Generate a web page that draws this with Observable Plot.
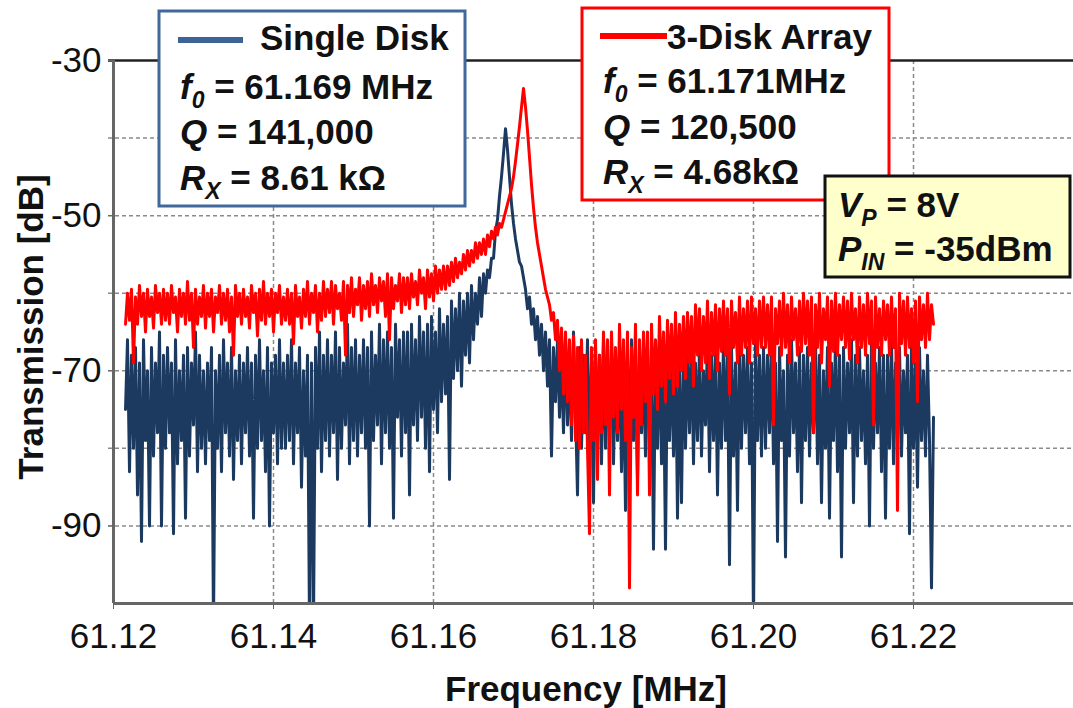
<!DOCTYPE html>
<html>
<head>
<meta charset="utf-8">
<script src="https://cdn.jsdelivr.net/npm/d3@7"></script>
<script src="https://cdn.jsdelivr.net/npm/@observablehq/plot@0.6"></script>
<style>
  html, body { margin: 0; padding: 0; background: #fff; }
  #wrap { position: relative; width: 1073px; height: 708px; overflow: hidden; }
  #wrap svg { position: absolute; left: 0; top: 0; }
</style>
</head>
<body>
<div id="wrap"></div>
<script>
// ---- data ----
const freqStart = 61.1215;   // MHz, first sample of the sweep
const freqStep = 0.00025;    // MHz, sweep spacing

const singleDiskDb = [
  -75,-66,-83,-68,-80,-67,-86,-69,-92,-66,-79,-70,-90,-67,-81,-69,-78,-65,-90,-68,
  -80,-67,-78,-69,-91,-66,-82,-70,-79,-68,-89,-67,-81,-69,-77,-65,-83,-68,-80,-70,
  -82,-69,-79,-67,-103,-70,-80,-68,-83,-66,-78,-69,-81,-67,-84,-70,-79,-68,-82,-69,
  -78,-67,-81,-69,-89,-68,-80,-66,-79,-70,-83,-67,-90,-69,-78,-68,-82,-66,-80,-69,
  -80,-68,-79,-66,-82,-69,-78,-67,-85,-70,-81,-68,-103,-69,-103,-67,-80,-65,-83,-68,
  -79,-66,-81,-68,-78,-65,-84,-67,-80,-69,-77,-64,-82,-67,-79,-66,-81,-68,-78,-66,
  -80,-67,-90,-65,-79,-68,-77,-64,-82,-66,-78,-65,-80,-67,-89,-64,-76,-66,-81,-65,
  -78,-65,-86,-64,-77,-66,-79,-63,-76,-65,-80,-64,-83,-63,-75,-65,-78,-62,-74,-64,
  -73,-63,-84,-61,-71,-62,-70,-60,-72,-61,-68,-60,-69,-59,-66,-60,-64,-58,-63,-57.5,
  -60,-57,-58,-55.5,-55.5,-52,-50.5,-47.5,-45,-42,-38.8,-41.5,-45,-48.5,-51,-53,-54.5,-56,-56.5,-58,
  -59.5,-62,-60.5,-64,-62,-66,-63,-68,-64,-70,-65,-72,-66,-81,-67,-74,-66,-76,-68,-78,
  -66,-77,-68,-79,-65,-75,-86,-67,-80,-68,-78,-66,-81,-69,-87,-67,-79,-68,-82,-66,
  -80,-68,-78,-66,-82,-69,-79,-67,-83,-70,-88,-68,-80,-66,-79,-69,-84,-67,-78,-69,
  -81,-67,-79,-69,-93,-68,-80,-66,-82,-70,-93,-67,-79,-68,-81,-66,-89,-69,-87,-67,
  -80,-68,-78,-66,-82,-69,-79,-67,-81,-70,-77,-66,-83,-68,-79,-67,-86,-69,-80,-66,
  -79,-68,-95,-67,-81,-69,-88,-66,-80,-68,-78,-67,-82,-69,-103,-66,-79,-68,-81,-67,
  -80,-68,-78,-66,-82,-69,-92,-67,-79,-70,-94,-68,-81,-66,-78,-69,-83,-67,-87,-68,
  -79,-67,-81,-69,-78,-66,-82,-68,-87,-70,-80,-67,-89,-69,-79,-66,-83,-68,-94,-67,
  -80,-69,-78,-66,-87,-68,-81,-67,-79,-70,-82,-68,-90,-66,-80,-69,-78,-67,-83,-68,
  -89,-68,-80,-66,-82,-69,-79,-67,-81,-70,-78,-68,-91,-66,-80,-69,-85,-67,-79,-70,
  -81,-68,-79,-98,-76
];

const threeDiskDb = [
  -64,-60,-63.5,-59.5,-69,-60.5,-64,-59,-63,-60,-65,-59.5,-63,-60.5,-64.5,-59,-62.5,-60,-64,-59.5,
  -63.5,-60,-64,-59,-62.5,-60.5,-65,-59.5,-63,-60,-64,-58.5,-63.5,-60,-67,-59.5,-64,-60.5,-63,-59,
  -64.5,-60,-63,-59.5,-65,-60.5,-62.5,-59,-64,-60,-63.5,-59.5,-65,-60.5,-68,-59,-63,-60,-64,-59.5,
  -63,-60.5,-64.5,-59,-62.5,-60,-65.5,-59.5,-63.5,-58.5,-64,-60,-63,-59.5,-65,-60,-62.5,-59,-64,-60.5,
  -63.5,-59.5,-64,-60,-66.5,-59,-63,-60.5,-64.5,-59.5,-63,-58.5,-64,-60,-62.5,-59,-65,-60,-63.5,-58.5,
  -63,-59.5,-62.5,-58.5,-64,-59,-62,-60,-63.5,-58.5,-68,-59,-62.5,-58,-63,-59.5,-61.5,-58,-63.5,-59,
  -62,-58.5,-63,-57.5,-61.5,-59,-62.5,-58,-61,-58.5,-63,-57.5,-66,-58,-62,-59,-61,-57.5,-62.5,-58,
  -61.5,-58,-62,-57.5,-60.5,-58.5,-61.5,-57,-60,-58,-62,-57,-60.5,-57.5,-61,-56.5,-60,-57,-59.5,-56.5,
  -59.5,-56.5,-59,-56,-58.5,-55.5,-58,-56,-57.5,-55,-57,-54.5,-56.5,-54.5,-56,-53.5,-55.5,-53.5,-55,-53,
  -55,-52.5,-54,-52,-53,-51.5,-52.5,-51,-51.5,-50.5,-49.5,-48.5,-47.5,-46.5,-45,-43,-40.8,-38.5,-36,-33.6,
  -36,-39,-42.5,-46,-49,-51.5,-53.5,-55,-56.5,-58,-59.5,-60.5,-61.5,-63.5,-62.5,-66,-63.5,-70,-64.5,-73,
  -65,-74,-66,-77,-65.5,-79,-67,-80,-66,-78,-68,-80,-91,-67,-79,-66,-84,-68,-78,-65,
  -77,-66,-86,-65,-76,-67,-78,-64,-75,-66,-79,-65,-98,-67,-76,-64,-86,-66,-77,-65,
  -74,-65,-86,-64,-73,-66,-75,-63,-72,-65,-74,-63.5,-71,-64,-73,-62.5,-72,-64,-70,-63,
  -71,-62.5,-69,-63,-72,-61.5,-68,-62,-70,-63,-69,-61,-71,-62.5,-68,-61.5,-70,-62,-67.5,-61,
  -68,-62,-73,-61,-67,-62.5,-69,-60.5,-68,-62,-67,-61,-69,-60.5,-66.5,-62,-68,-61,-67,-60.5,
  -67,-61.5,-68,-60.5,-77,-62,-66.5,-61,-68,-60,-67,-61.5,-69,-60.5,-66,-62,-68,-61,-67.5,-60,
  -66.5,-61,-68,-60.5,-78,-61.5,-67,-60,-69,-62,-66,-60.5,-72,-61,-67.5,-60,-68,-61.5,-66,-60.5,
  -67,-61,-68.5,-60,-66,-62,-69,-60.5,-67,-61.5,-68,-60,-66.5,-61,-77,-60.5,-67,-62,-68,-61,
  -66,-61.5,-68,-60.5,-67,-62,-88,-60,-66.5,-61,-68,-60.5,-67,-62,-69,-61,-74,-60.5,-66,-61.5,
  -67,-60,-66,-61.5,-64
];

const xTicks = [61.12, 61.14, 61.16, 61.18, 61.20, 61.22];
const yTicks = [-30, -50, -70, -90];
const yGrid = [-40, -50, -60, -70, -80, -90];
const xGrid = [61.14, 61.16, 61.18, 61.20, 61.22];

const blueRows = singleDiskDb.map((v, i) => ({f: freqStart + i * freqStep, db: v}));
const redRows = threeDiskDb.map((v, i) => ({f: freqStart + i * freqStep, db: v}));

const BLUE = "#1c3a60";
const RED = "#ff0000";

const chart = Plot.plot({
  width: 1073,
  height: 708,
  marginLeft: 113,
  marginRight: 0,
  marginTop: 60,
  marginBottom: 105,
  style: {fontFamily: "'Liberation Sans', Arial, sans-serif", fontSize: "35px", color: "#111", background: "transparent"},
  x: {domain: [61.12, 61.24]},
  y: {domain: [-100, -30]},
  marks: [
    Plot.gridY(yGrid, {stroke: "#8a8a8a", strokeOpacity: 1, strokeWidth: 1.5, strokeDasharray: "4,3", insetLeft: -5}),
    Plot.gridX(xGrid, {stroke: "#8a8a8a", strokeOpacity: 1, strokeWidth: 1.5, strokeDasharray: "4,3"}),
    Plot.line(blueRows, {x: "f", y: "db", stroke: BLUE, strokeWidth: 3, clip: true}),
    Plot.line(redRows, {x: "f", y: "db", stroke: RED, strokeWidth: 3, clip: true}),
    Plot.ruleY([-30], {stroke: "#222", strokeWidth: 2.5, insetLeft: -5}),
    Plot.ruleY([-100], {stroke: "#666", strokeWidth: 3}),
    Plot.ruleX([61.12], {stroke: "#666", strokeWidth: 3}),
    Plot.axisX({ticks: xTicks, tickFormat: d3.format(".2f"), tickSize: 6, tickPadding: 14, label: null, stroke: "#666"}),
    Plot.axisY({ticks: yTicks, tickSize: 5, tickPadding: 7, label: null, stroke: "#666", tickFormat: d => String(d)})
  ]
});
document.getElementById("wrap").appendChild(chart);

// ---- legend / annotation overlay ----
const ov = d3.select("#wrap").append("svg")
  .attr("width", 1073).attr("height", 708)
  .style("font-family", "'Liberation Sans', Arial, sans-serif")
  .style("font-weight", "bold")
  .style("font-size", "35px")
  .attr("fill", "#111");

function rich(x, y, parts) {
  const t = ov.append("text").attr("x", x).attr("y", y);
  parts.forEach(p => {
    const s = t.append("tspan").text(p.t);
    if (p.i) s.style("font-style", "italic");
    if (p.sub) s.attr("dy", 9).style("font-size", "23px");
    if (p.up) s.attr("dy", -9);
  });
  return t;
}

// box 1: single disk
ov.append("rect").attr("x", 159).attr("y", 11).attr("width", 306).attr("height", 195)
  .attr("fill", "#fff").attr("stroke", "#41689b").attr("stroke-width", 3);
ov.append("line").attr("x1", 178).attr("x2", 243).attr("y1", 40).attr("y2", 40)
  .attr("stroke", "#3d6494").attr("stroke-width", 6);
rich(260, 50, [{t: "Single Disk"}]);
rich(180, 99, [{t: "f", i: 1}, {t: "0", i: 1, sub: 1}, {t: " = 61.169 MHz", up: 1}]);
rich(180, 144, [{t: "Q", i: 1}, {t: " = 141,000"}]);
rich(180, 190, [{t: "R", i: 1}, {t: "X", i: 1, sub: 1}, {t: " = 8.61 kΩ", up: 1}]);

// box 2: 3-disk array
ov.append("rect").attr("x", 582).attr("y", 8).attr("width", 307).attr("height", 192)
  .attr("fill", "#fff").attr("stroke", RED).attr("stroke-width", 3);
ov.append("line").attr("x1", 600).attr("x2", 667).attr("y1", 36).attr("y2", 36)
  .attr("stroke", RED).attr("stroke-width", 6);
rich(667, 49, [{t: "3-Disk Array"}]);
rich(603, 93, [{t: "f", i: 1}, {t: "0", i: 1, sub: 1}, {t: " = 61.171MHz", up: 1}]);
rich(603, 139, [{t: "Q", i: 1}, {t: " = 120,500"}]);
rich(603, 184, [{t: "R", i: 1}, {t: "X", i: 1, sub: 1}, {t: " = 4.68kΩ", up: 1}]);

// box 3: bias conditions
ov.append("rect").attr("x", 825).attr("y", 176).attr("width", 245).attr("height", 101)
  .attr("fill", "#ffffcc").attr("stroke", "#111").attr("stroke-width", 3);
rich(838, 217, [{t: "V", i: 1}, {t: "P", i: 1, sub: 1}, {t: " = 8V", up: 1}]);
rich(838, 261, [{t: "P", i: 1}, {t: "IN", i: 1, sub: 1}, {t: " = -35dBm", up: 1}]);

// axis titles
ov.append("text").attr("x", 586).attr("y", 701).attr("text-anchor", "middle").text("Frequency [MHz]");
ov.append("text").attr("transform", "translate(43,327) rotate(-90)").attr("text-anchor", "middle").text("Transmission [dB]");
</script>
</body>
</html>
